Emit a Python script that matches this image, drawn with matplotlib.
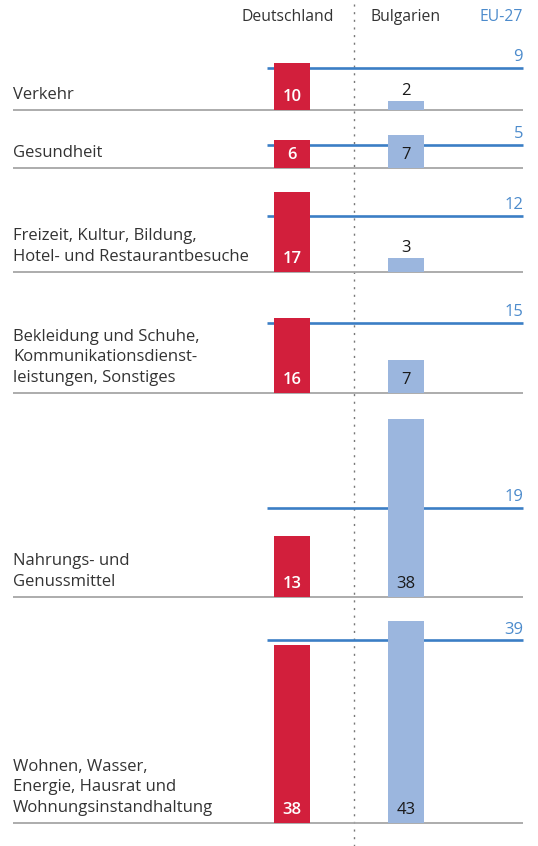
import numpy as np
import matplotlib.pyplot as plt

plt.rcParams['font.family'] = ['Open Sans', 'DejaVu Sans']

# Anteil der Konsumausgaben in Prozent
categories = [
    'Verkehr',
    'Gesundheit',
    'Freizeit, Kultur, Bildung,\nHotel- und Restaurantbesuche',
    'Bekleidung und Schuhe,\nKommunikationsdienst-\nleistungen, Sonstiges',
    'Nahrungs- und\nGenussmittel',
    'Wohnen, Wasser,\nEnergie, Hausrat und\nWohnungsinstandhaltung',
]
deutschland = [10, 6, 17, 16, 13, 38]
bulgarien = [2, 7, 3, 7, 38, 43]
eu27 = [9, 5, 12, 15, 19, 39]

# layout (pixels from top of the figure)
W, H = 538, 846
PX = 4.69                      # pixels per percentage point
row_base_px = [110, 168, 272, 393, 597, 823]
x_de, x_bg, bar_w = 292, 406, 36
x_left, x_right, x_eu0 = 13, 523, 267
x_div = 354

RED = '#D21F3C'
LIGHT = '#9BB6DE'
EU_LINE = '#3B7EC5'
EU_TEXT = '#4C8BCC'
GREY = '#A6A6A6'
TXT = '#333333'

fig = plt.figure(figsize=(W / 100, H / 100), dpi=100)
ax = fig.add_axes([0, 0, 1, 1])
ax.set_xlim(0, W)
ax.set_ylim(0, H / PX)
ax.axis('off')

def to_units(py):
    return (H - py) / PX

px2pt = 0.72

# dotted divider between the two countries
ax.plot([x_div, x_div], [to_units(4), to_units(H)], color='#777777',
        lw=1.0, linestyle=(0, (1.5, 4)), zorder=1)

# column headers
ax.text(x_de - 4, to_units(17), 'Deutschland', ha='center', va='center',
        fontsize=11.3, color=TXT)
ax.text(x_bg, to_units(17), 'Bulgarien', ha='center', va='center',
        fontsize=11.3, color=TXT)
ax.text(x_right, to_units(17), 'EU-27', ha='right', va='center',
        fontsize=11.3, color=EU_TEXT)

for i, cat in enumerate(categories):
    base = to_units(row_base_px[i])

    # row separator
    ax.plot([x_left, x_right], [base, base], color=GREY, lw=1.3,
            solid_capstyle='butt', zorder=2)

    # EU-27 reference line
    ax.plot([x_eu0, x_right], [base + eu27[i]] * 2, color=EU_LINE, lw=1.9,
            solid_capstyle='butt', zorder=3)
    ax.annotate(str(eu27[i]), (x_right, base + eu27[i]),
                xytext=(0, 2.5 * px2pt), textcoords='offset points',
                ha='right', va='bottom', fontsize=12, color=EU_TEXT)

    # bars
    ax.bar(x_de, deutschland[i], width=bar_w, bottom=base, color=RED,
           zorder=4)
    ax.bar(x_bg, bulgarien[i], width=bar_w, bottom=base, color=LIGHT,
           zorder=4)

    ax.annotate(str(deutschland[i]), (x_de, base),
                xytext=(0, 5 * px2pt), textcoords='offset points',
                ha='center', va='bottom', fontsize=12, color='white',
                fontweight='semibold', zorder=5)
    if bulgarien[i] >= 5:
        ax.annotate(str(bulgarien[i]), (x_bg, base),
                    xytext=(0, 5 * px2pt), textcoords='offset points',
                    ha='center', va='bottom', fontsize=12, color='#1A1A1A',
                    zorder=5)
    else:
        ax.annotate(str(bulgarien[i]), (x_bg, base + bulgarien[i]),
                    xytext=(0, 2 * px2pt), textcoords='offset points',
                    ha='center', va='bottom', fontsize=12, color='#1A1A1A',
                    zorder=5)

    # category label
    ax.annotate(cat, (x_left, base), xytext=(0, 7 * px2pt),
                textcoords='offset points', ha='left', va='bottom',
                fontsize=12, color=TXT, linespacing=1.38)

fig.savefig('out.png', dpi=100)
